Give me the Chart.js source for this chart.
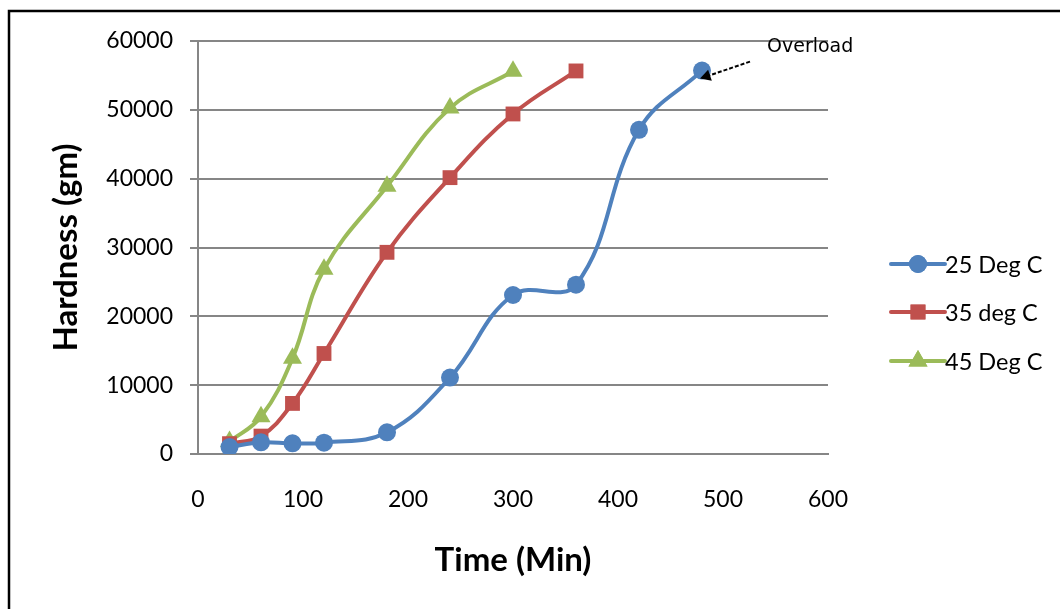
<!DOCTYPE html>
<html>
<head>
<meta charset="utf-8">
<title>Hardness vs Time</title>
<script src="https://cdn.jsdelivr.net/npm/chart.js@4"></script>
<style>
  html, body { margin: 0; padding: 0; background: #fff; }
  #wrap { width: 1060px; height: 609px; position: relative; }
</style>
</head>
<body>
<div id="wrap"><canvas id="hardness-chart" width="1060" height="609"></canvas></div>
<script>
// Hardness readings (gm) over curing time (min) at three temperatures
const seriesNames = ['25 Deg C', '35 deg C', '45 Deg C'];
const time25 = [30, 60, 90, 120, 180, 240, 300, 360, 420, 480];
const hard25 = [1000, 1700, 1550, 1650, 3150, 11100, 23100, 24600, 47100, 55700];
const time35 = [30, 60, 90, 120, 180, 240, 300, 360];
const hard35 = [1500, 2600, 7350, 14600, 29300, 40150, 49400, 55650];
const time45 = [30, 60, 90, 120, 180, 240, 300];
const hard45 = [1800, 5400, 13900, 26850, 38900, 50250, 55600];
const xTicks = [0, 100, 200, 300, 400, 500, 600];
const yTicks = [0, 10000, 20000, 30000, 40000, 50000, 60000];
const overloadLabel = 'Overload';

const colors = ['#4F81BD', '#C0504D', '#9BBB59'];
const markers = ['circle', 'rect', 'triangle'];
const markerSize = [9, 10.5, 11];

function toPoints(xs, ys) {
  return xs.map((x, i) => ({ x: x, y: ys[i] }));
}

const datasets = [
  [time25, hard25],
  [time35, hard35],
  [time45, hard45]
].map(([xs, ys], i) => ({
  label: seriesNames[i],
  data: toPoints(xs, ys),
  showLine: true,
  borderColor: colors[i],
  backgroundColor: colors[i],
  borderWidth: 4,
  tension: 0.4,
  pointStyle: markers[i],
  pointRadius: markerSize[i],
  pointHoverRadius: markerSize[i],
  pointBorderWidth: 0
}));

// black frame on the top and left edges
const framePlugin = {
  id: 'frame',
  beforeDraw(chart) {
    const ctx = chart.ctx;
    ctx.save();
    ctx.fillStyle = '#fff';
    ctx.fillRect(0, 0, chart.width, chart.height);
    ctx.strokeStyle = '#000';
    ctx.lineWidth = 2.5;
    ctx.beginPath();
    ctx.moveTo(chart.width, 11);
    ctx.lineTo(9, 11);
    ctx.lineTo(9, chart.height);
    ctx.stroke();
    ctx.restore();
  }
};

// legend drawn as line + marker, like the series themselves
const sideLegend = {
  id: 'sideLegend',
  afterDraw(chart) {
    const ctx = chart.ctx;
    const x0 = 891, x1 = 945;
    const rows = [264, 312, 361];
    ctx.save();
    chart.data.datasets.forEach((ds, i) => {
      const y = rows[i];
      ctx.strokeStyle = ds.borderColor;
      ctx.lineWidth = 4;
      ctx.lineCap = 'round';
      ctx.beginPath();
      ctx.moveTo(x0, y);
      ctx.lineTo(x1, y);
      ctx.stroke();
      ctx.fillStyle = ds.backgroundColor;
      Chart.helpers.drawPoint(ctx, { pointStyle: ds.pointStyle, radius: ds.pointRadius, borderWidth: 0 }, (x0 + x1) / 2, y);
      ctx.fill();
      ctx.fillStyle = '#000';
      ctx.font = '23.5px Lato';
      ctx.textBaseline = 'middle';
      ctx.textAlign = 'left';
      ctx.fillText(ds.label, 945, y + 1);
    });
    ctx.restore();
  }
};

// "Overload" note with a dashed arrow onto the last 25 Deg C point
const overloadNote = {
  id: 'overloadNote',
  afterDatasetsDraw(chart) {
    const ctx = chart.ctx;
    const xs = chart.scales.x, ys = chart.scales.y;
    const n = time25.length - 1;
    const px = xs.getPixelForValue(time25[n]);
    const py = ys.getPixelForValue(hard25[n]);
    const tipX = px - 2, tipY = py + 8;
    const startX = px + 48, startY = py - 9;
    ctx.save();
    ctx.strokeStyle = '#000';
    ctx.lineWidth = 2;
    ctx.setLineDash([4, 2]);
    ctx.beginPath();
    ctx.moveTo(startX, startY);
    ctx.lineTo(tipX + 6, tipY - 2);
    ctx.stroke();
    ctx.setLineDash([]);
    const ang = Math.atan2(tipY - startY, tipX - startX);
    ctx.fillStyle = '#000';
    ctx.beginPath();
    ctx.moveTo(tipX, tipY);
    ctx.lineTo(tipX - 12 * Math.cos(ang - 0.5), tipY - 12 * Math.sin(ang - 0.5));
    ctx.lineTo(tipX - 12 * Math.cos(ang + 0.5), tipY - 12 * Math.sin(ang + 0.5));
    ctx.closePath();
    ctx.fill();
    ctx.font = '19px "DejaVu Sans"';
    ctx.textBaseline = 'middle';
    ctx.textAlign = 'left';
    ctx.fillText(overloadLabel, 767, 47);
    ctx.restore();
  }
};

const ctx = document.getElementById('hardness-chart').getContext('2d');
new Chart(ctx, {
  type: 'scatter',
  data: { datasets: datasets },
  options: {
    responsive: false,
    animation: false,
    events: [],
    layout: { padding: { left: 43, right: 232, top: 41, bottom: 28 } },
    plugins: {
      legend: { display: false },
      tooltip: { enabled: false }
    },
    scales: {
      x: {
        type: 'linear',
        min: 0,
        max: 600,
        afterBuildTicks(scale) { scale.ticks = xTicks.map(v => ({ value: v })); },
        afterFit(scale) { scale.height = 127; },
        grid: { display: false, drawTicks: true, tickLength: 7, tickColor: '#868686', tickWidth: 2 },
        border: { display: true, color: '#868686', width: 2 },
        ticks: { color: '#000', font: { family: 'Lato', size: 23 }, padding: 25, maxRotation: 0, callback: v => String(v) },
        title: { display: true, text: 'Time (Min)', color: '#000', font: { family: 'Lato', size: 33, weight: 'bold' }, padding: { top: 4, bottom: 1 } }
      },
      y: {
        type: 'linear',
        min: 0,
        max: 60000,
        afterBuildTicks(scale) { scale.ticks = yTicks.map(v => ({ value: v })); },
        afterFit(scale) { scale.width = 155; },
        grid: { color: '#868686', lineWidth: 2, tickLength: 8, tickColor: '#868686' },
        border: { display: true, color: '#868686', width: 2 },
        ticks: { color: '#000', font: { family: 'Lato', size: 23 }, padding: 17, callback: v => String(v) },
        title: { display: true, text: 'Hardness (gm)', color: '#000', font: { family: 'Lato', size: 33, weight: 'bold' } }
      }
    }
  },
  plugins: [framePlugin, sideLegend, overloadNote]
});
</script>
</body>
</html>
